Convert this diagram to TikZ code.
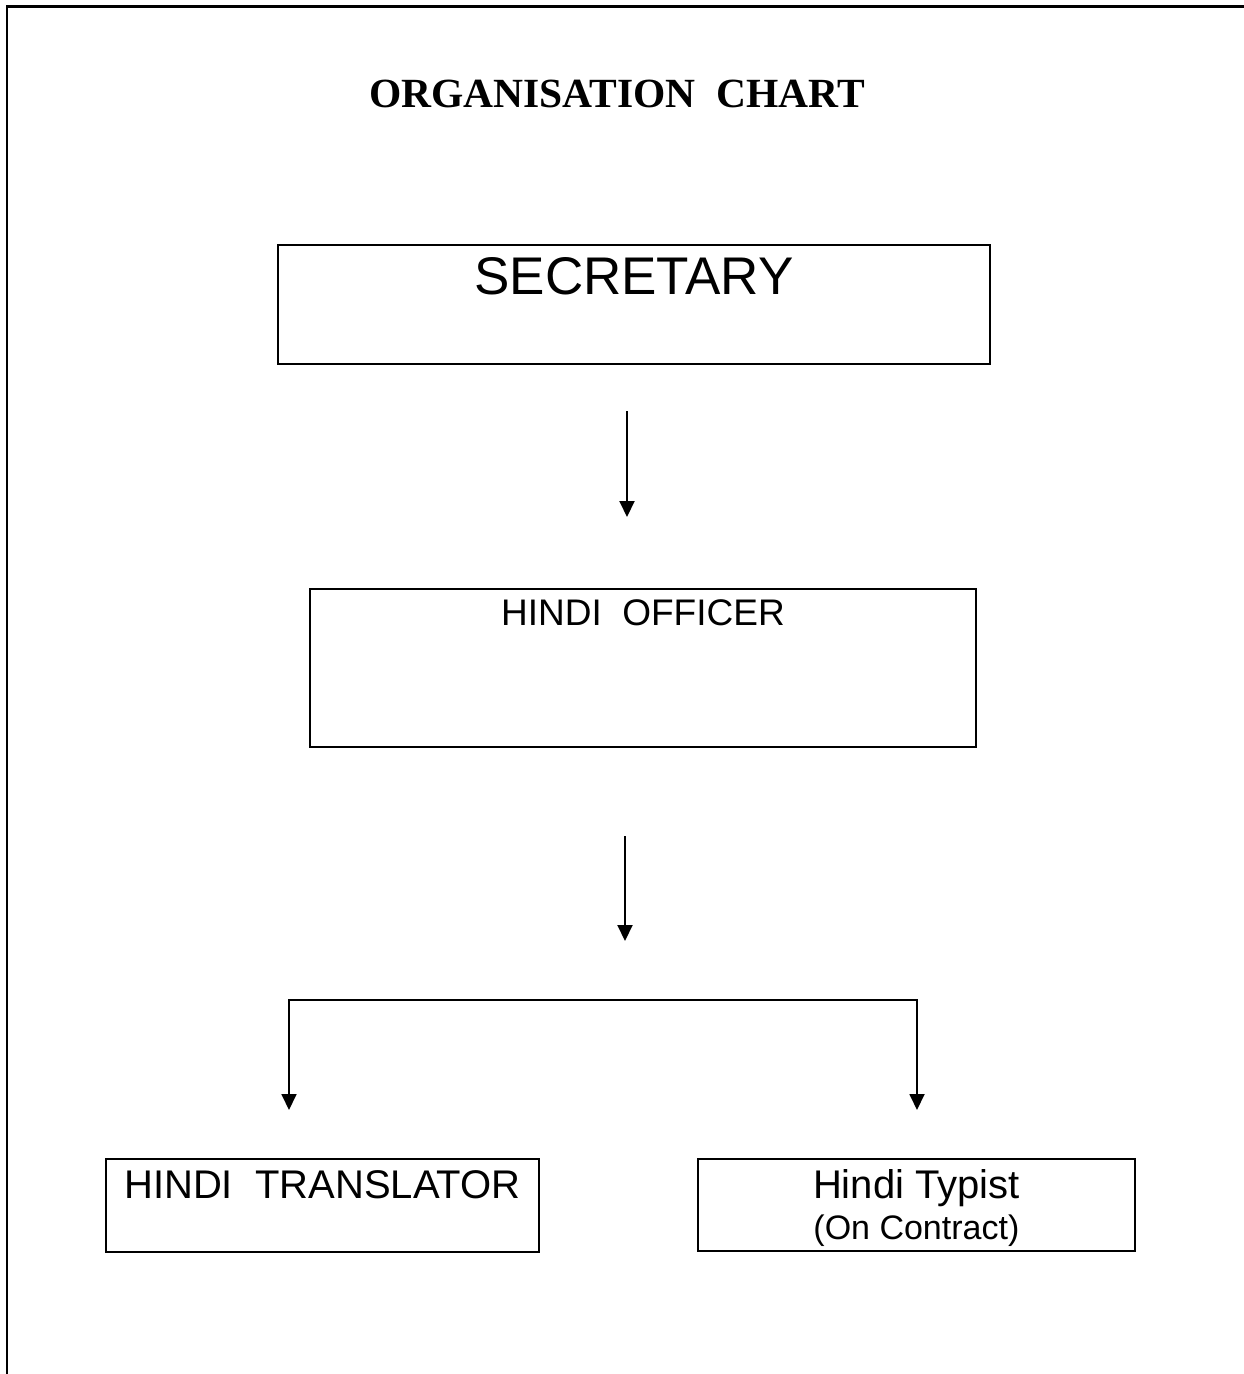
\documentclass[tikz,border=0pt]{standalone}
\usepackage{fontspec}
\setmainfont{Liberation Sans}
\newfontfamily\titlefont{Liberation Serif}
\usetikzlibrary{arrows.meta}
\usetikzlibrary{positioning}
\tikzset{post/.style = {draw, line width=1.8pt, inner sep=0pt, anchor=north west},
         flow/.style = {-{Triangle[length=16pt,width=15pt]}, line width=2pt},
         fork/.style = {{Triangle[length=16pt,width=15pt]}-{Triangle[length=16pt,width=15pt]},
                        line width=1.8pt}}
\newcommand{\fsz}[1]{\fontsize{#1}{1.2\dimexpr#1pt\relax}\selectfont}

\begin{document}
\begin{tikzpicture}[x=1pt, y=-1pt]
    \useasboundingbox (0, 0) rectangle (1244, 1374);
    \draw [line width=2.2pt] (7, 1374) -- (7, 6.5) -- (1244, 6.5);

    \node [anchor=base, font=\titlefont\bfseries\fsz{41.5}] (title) at (617, 107) {ORGANISATION\ \ CHART};

    \node [post, minimum width=712pt, text height=50pt, text depth=69pt, font=\fsz{53}]
          (secretary) at (277, 244) {SECRETARY};
    \node [post, minimum width=666pt, text height=37pt, text depth=121pt, font=\fsz{37}]
          (officer) at (309, 588) {HINDI\ \ OFFICER};
    \node [post, minimum width=433pt, text height=40pt, text depth=53pt, font=\fsz{40}]
          (translator) at (105, 1158) {HINDI\ \ TRANSLATOR};
    \node [post, minimum width=437pt, minimum height=92pt, align=center, font=\fsz{40}]
          (typist) at (697, 1158) {\rule{0pt}{35pt}Hindi Typist\\[-7pt]{\fsz{34}(On Contract)}};

    \coordinate (s1) at (627, 411);
    \coordinate (e1) at (627, 517);
    \coordinate (s2) at (625, 836);
    \coordinate (e2) at (625, 941);
    \coordinate (tl) at (289, 1110);
    \coordinate (tr) at (917, 1110);
    \coordinate (jr) at (917, 1000);

    \draw [flow] (s1) -- (e1);
    \draw [flow] (s2) -- (e2);
    \draw [fork] (tl) |- (jr) -- (tr);
\end{tikzpicture}
\end{document}
